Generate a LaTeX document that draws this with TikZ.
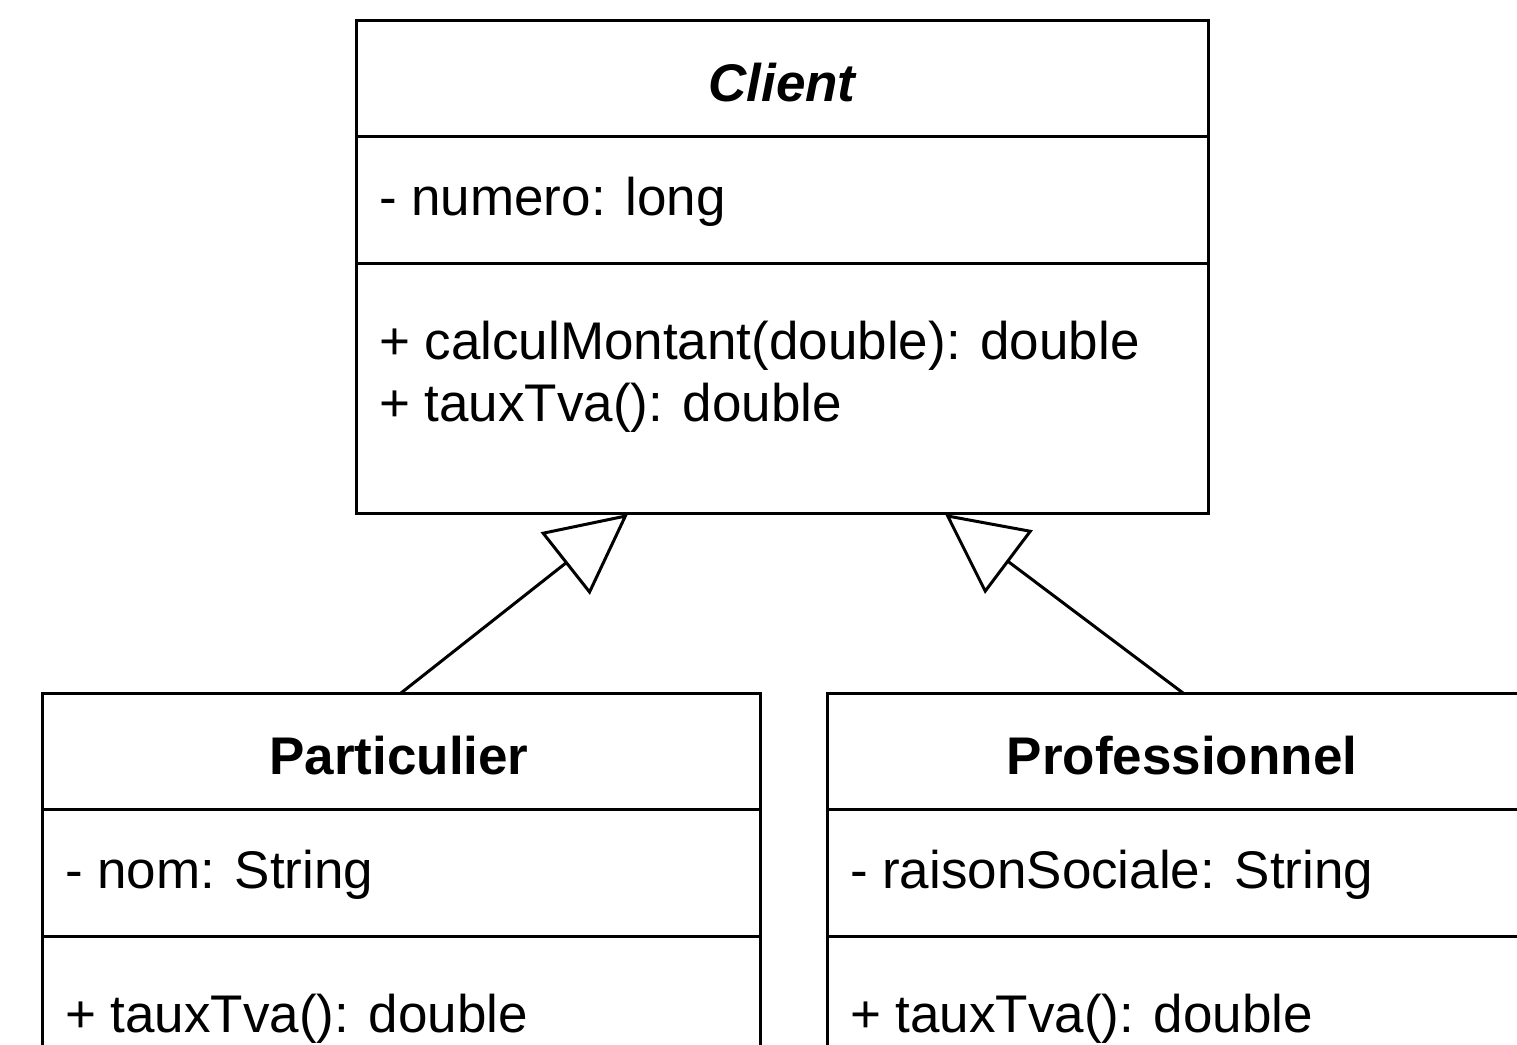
\documentclass[tikz,border=0pt]{standalone}
\usepackage{fontspec}
\setmainfont{Liberation Sans}
\usetikzlibrary{arrows.meta}
\begin{document}
\begin{tikzpicture}[x=1pt,y=-1pt,
  umlbox/.style={draw=black, line width=3pt, rectangle, inner sep=0pt, outer sep=0pt},
  divline/.style={draw=black, line width=3pt},
  txt/.style={inner sep=0pt, outer sep=0pt, font=\fontsize{53}{62}\selectfont},
  ttl/.style={txt, font=\fontsize{53}{62}\selectfont\bfseries},
  inherit/.style={draw=black, line width=3pt, -{Triangle[open, length=80pt, width=79pt]}}]
\clip (0,0) rectangle (1517,1044);
\fill[white] (0,0) rectangle (1517,1044);
% boxes
\node[umlbox, minimum width=852pt, minimum height=493pt, anchor=north west] (client) at (356,20) {};
\node[umlbox, minimum width=718pt, minimum height=420pt, anchor=north west] (part) at (42,693) {};
\node[umlbox, minimum width=712pt, minimum height=420pt, anchor=north west] (prof) at (827,693) {};
% dividers
\draw[divline] (client.west |- 0,136) -- (client.east |- 0,136);
\draw[divline] (client.west |- 0,263) -- (client.east |- 0,263);
\draw[divline] (part.west |- 0,809) -- (part.east |- 0,809);
\draw[divline] (part.west |- 0,936) -- (part.east |- 0,936);
\draw[divline] (prof.west |- 0,809) -- (prof.east |- 0,809);
\draw[divline] (prof.west |- 0,936) -- (prof.east |- 0,936);
% texts
\node[ttl, anchor=base, font=\fontsize{53}{62}\selectfont\bfseries\itshape] (ctitle) at (782,101) {Client};
\node[txt, anchor=base west] (cattr) at (379,215) {- numero: long};
\node[txt, anchor=base west] (cm1) at (379,359) {+ calculMontant(double): double};
\node[txt, anchor=base west] (cm2) at (379,421) {+ tauxTva(): double};
\node[ttl, anchor=base] (ptitle) at (399,774) {Particulier};
\node[txt, anchor=base west] (pattr) at (65,888) {- nom: String};
\node[txt, anchor=base west] (pm1) at (65,1032) {+ tauxTva(): double};
\node[ttl, anchor=base] (rtitle) at (1182,774) {Professionnel};
\node[txt, anchor=base west] (rattr) at (850,888) {- raisonSociale: String};
\node[txt, anchor=base west] (rm1) at (850,1032) {+ tauxTva(): double};
% inheritance
\coordinate (tipL) at (628,514);
\coordinate (tipR) at (945,514);
\coordinate (startR) at (1183,693);
\draw[inherit] (part.north) -- (tipL);
\draw[inherit] (startR) -- (tipR);
\end{tikzpicture}
\end{document}
